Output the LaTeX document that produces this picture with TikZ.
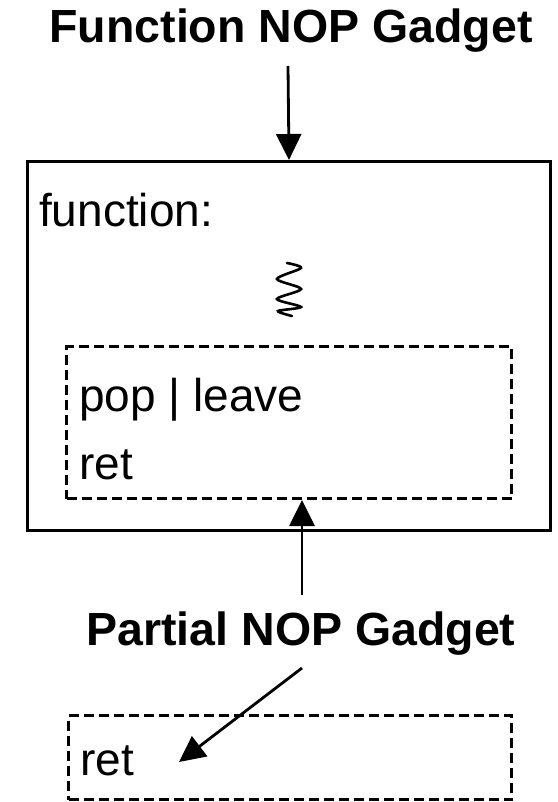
\documentclass[tikz,border=0pt]{standalone}
\usepackage{fontspec}
\setmainfont{Liberation Sans}
\usetikzlibrary{arrows.meta}
\tikzset{
  solidbox/.style={draw, line width=3pt, inner sep=0pt, anchor=north west},
  dashbox/.style={draw, line width=3pt, dash pattern=on 10pt off 5pt, inner sep=0pt, anchor=north west},
  arr/.style={line width=2.8pt, -{Triangle[width=25pt,length=26pt]}},
  txt/.style={anchor=base west, inner sep=0pt, font=\fontsize{46}{55}\selectfont},
  head/.style={anchor=base, inner sep=0pt, font=\fontsize{46.5}{55}\selectfont\bfseries},
}
\begin{document}
\begin{tikzpicture}[x=1pt, y=-1pt]
  \useasboundingbox (0,0) rectangle (557,802);
  % titles
  \node[head] (ftitle) at (291,43) {Function NOP Gadget};
  \node[head] (ptitle) at (301,645) {Partial NOP Gadget};
  % function body
  \node[solidbox, minimum width=523pt, minimum height=369pt] (func) at (26,160) {};
  \node[txt] (fname) at (39,226) {function:};
  \draw[line width=2.6pt, line cap=round]
    plot[smooth] coordinates {(287,263) (301,268) (277,279) (301,289) (277,299) (301,307) (278,311) (292,316)};
  % epilogue inside the function
  \node[dashbox, minimum width=445pt, minimum height=152pt] (epi) at (65,345) {};
  \node[txt] (pop) at (79,411) {pop | leave};
  \node[txt] (ret1) at (79,479) {ret};
  % lone ret
  \node[dashbox, minimum width=443pt, minimum height=84pt] (lone) at (67,714) {};
  \node[txt] (ret2) at (80,775) {ret};
  % connectors
  \coordinate (a1) at (288,66);
  \draw[arr] (a1) -- (func.north);
  \coordinate (a2) at (302,595);
  \draw[arr] (a2) -- (a2 |- epi.south);
  \coordinate (a3s) at (302,668);
  \coordinate (a3e) at (179,762);
  \draw[arr] (a3s) -- (a3e);
\end{tikzpicture}
\end{document}
